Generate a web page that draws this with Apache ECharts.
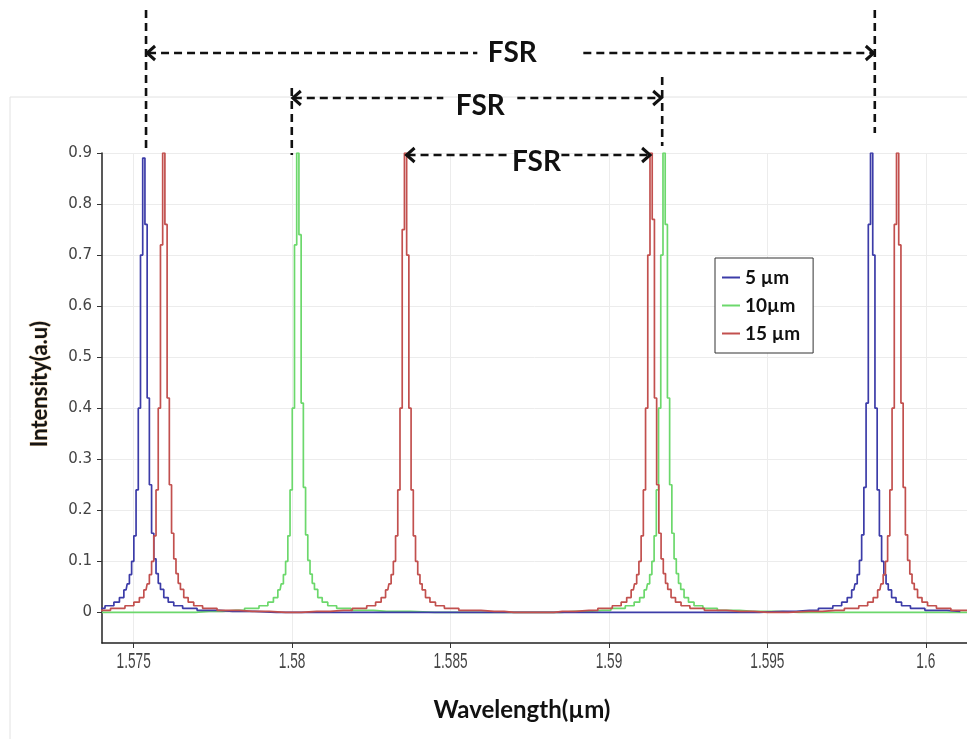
<!DOCTYPE html>
<html>
<head>
<meta charset="utf-8">
<script src="https://cdn.jsdelivr.net/npm/echarts@6/dist/echarts.min.js"></script>
<style>
html,body{margin:0;padding:0;background:#fff;}
#main{width:967px;height:739px;}
</style>
</head>
<body>
<div id="main"></div>
<script>
// ---- data ----
const seriesNames = ['5 µm', '10µm', '15 µm'];
const xTicks = [1.575, 1.58, 1.585, 1.59, 1.595, 1.6];
const yTicks = [0, 0.1, 0.2, 0.3, 0.4, 0.5, 0.6, 0.7, 0.8, 0.9];

const wl5 = [1.57252, 1.57336, 1.57392, 1.57427, 1.57448, 1.57462, 1.57476, 1.57483, 1.57490, 1.57497, 1.57504, 1.57511, 1.57518, 1.57525,
  1.57532,
  1.57539, 1.57546, 1.57553, 1.57560, 1.57567, 1.57574, 1.57581, 1.57588, 1.57602, 1.57616, 1.57637, 1.57672, 1.57728, 1.57812,
  1.5795, 1.5940,
  1.59549, 1.59633, 1.59689, 1.59724, 1.59745, 1.59759, 1.59773, 1.59780, 1.59787, 1.59794, 1.59801, 1.59808, 1.59815, 1.59822,
  1.59829,
  1.59836, 1.59843, 1.59850, 1.59857, 1.59864, 1.59871, 1.59878, 1.59885, 1.59899, 1.59913, 1.59934, 1.59969, 1.60025, 1.60109];
const int5 = [0.002, 0.004, 0.008, 0.013, 0.020, 0.029, 0.044, 0.056, 0.074, 0.100, 0.150, 0.240, 0.400, 0.700,
  0.890,
  0.760, 0.420, 0.250, 0.155, 0.105, 0.076, 0.057, 0.045, 0.029, 0.020, 0.013, 0.008, 0.004, 0.002,
  0, 0,
  0.002, 0.004, 0.008, 0.013, 0.020, 0.029, 0.044, 0.056, 0.074, 0.102, 0.152, 0.245, 0.410, 0.760,
  0.900,
  0.700, 0.400, 0.240, 0.150, 0.100, 0.074, 0.056, 0.044, 0.029, 0.020, 0.013, 0.008, 0.004, 0.002];

const wl10 = [1.5740, 1.5765,
  1.57738, 1.57822, 1.57878, 1.57913, 1.57934, 1.57948, 1.57962, 1.57969, 1.57976, 1.57983, 1.57990, 1.57997, 1.58004, 1.58011,
  1.58018,
  1.58025, 1.58032, 1.58039, 1.58046, 1.58053, 1.58060, 1.58067, 1.58074, 1.58088, 1.58102, 1.58123, 1.58158, 1.58214, 1.58298,
  1.5845, 1.5880,
  1.58894, 1.58978, 1.59034, 1.59069, 1.59090, 1.59104, 1.59118, 1.59125, 1.59132, 1.59139, 1.59146, 1.59153, 1.59160, 1.59167,
  1.59174,
  1.59181, 1.59188, 1.59195, 1.59202, 1.59209, 1.59216, 1.59223, 1.59230, 1.59244, 1.59258, 1.59279, 1.59314, 1.59370, 1.59454,
  1.5960, 1.6013];
const int10 = [0, 0,
  0.002, 0.004, 0.008, 0.013, 0.020, 0.029, 0.044, 0.056, 0.074, 0.100, 0.150, 0.240, 0.400, 0.720,
  0.900,
  0.740, 0.410, 0.245, 0.152, 0.102, 0.075, 0.057, 0.045, 0.029, 0.020, 0.013, 0.008, 0.004, 0.002,
  0, 0,
  0.002, 0.004, 0.008, 0.013, 0.020, 0.029, 0.044, 0.056, 0.074, 0.100, 0.150, 0.240, 0.400, 0.700,
  0.900,
  0.760, 0.420, 0.250, 0.155, 0.105, 0.076, 0.057, 0.045, 0.029, 0.020, 0.013, 0.008, 0.004, 0.002,
  0, 0];

const wl15 = [1.57315, 1.57399, 1.57455, 1.57490, 1.57511, 1.57525, 1.57539, 1.57546, 1.57553, 1.57560, 1.57567, 1.57574, 1.57581, 1.57588,
  1.57595,
  1.57602, 1.57609, 1.57616, 1.57623, 1.57630, 1.57637, 1.57644, 1.57651, 1.57665, 1.57679, 1.57700, 1.57735, 1.57791, 1.57875,
  1.5798,
  1.58078, 1.58162, 1.58218, 1.58253, 1.58274, 1.58288, 1.58302, 1.58309, 1.58316, 1.58323, 1.58330, 1.58337, 1.58344, 1.58351,
  1.58358,
  1.58365, 1.58372, 1.58379, 1.58386, 1.58393, 1.58400, 1.58407, 1.58414, 1.58428, 1.58442, 1.58463, 1.58498, 1.58554, 1.58638,
  1.5870, 1.5880,
  1.58853, 1.58937, 1.58993, 1.59028, 1.59049, 1.59063, 1.59077, 1.59084, 1.59091, 1.59098, 1.59105, 1.59112, 1.59119, 1.59126,
  1.59133,
  1.59140, 1.59147, 1.59154, 1.59161, 1.59168, 1.59175, 1.59182, 1.59189, 1.59203, 1.59217, 1.59238, 1.59273, 1.59329, 1.59413,
  1.5950,
  1.59631, 1.59715, 1.59771, 1.59806, 1.59827, 1.59841, 1.59855, 1.59862, 1.59869, 1.59876, 1.59883, 1.59890, 1.59897, 1.59904,
  1.59911,
  1.59918, 1.59925, 1.59932, 1.59939, 1.59946, 1.59953, 1.59960, 1.59967, 1.59981, 1.59995, 1.60016, 1.60051, 1.60107, 1.60191];
const int15 = [0.002, 0.004, 0.008, 0.013, 0.020, 0.029, 0.044, 0.056, 0.074, 0.100, 0.150, 0.240, 0.400, 0.720,
  0.900,
  0.760, 0.420, 0.250, 0.155, 0.105, 0.076, 0.057, 0.045, 0.029, 0.020, 0.013, 0.008, 0.004, 0.002,
  0,
  0.002, 0.004, 0.008, 0.013, 0.020, 0.029, 0.044, 0.056, 0.074, 0.100, 0.150, 0.240, 0.400, 0.750,
  0.900,
  0.700, 0.400, 0.240, 0.150, 0.100, 0.074, 0.056, 0.044, 0.029, 0.020, 0.013, 0.008, 0.004, 0.002,
  0, 0,
  0.002, 0.004, 0.008, 0.013, 0.020, 0.029, 0.044, 0.056, 0.074, 0.100, 0.150, 0.240, 0.400, 0.700,
  0.900,
  0.770, 0.420, 0.250, 0.155, 0.105, 0.076, 0.057, 0.045, 0.029, 0.020, 0.013, 0.008, 0.004, 0.002,
  0,
  0.002, 0.004, 0.008, 0.013, 0.020, 0.029, 0.044, 0.056, 0.074, 0.100, 0.150, 0.240, 0.400, 0.760,
  0.900,
  0.720, 0.410, 0.245, 0.152, 0.102, 0.075, 0.057, 0.045, 0.029, 0.020, 0.013, 0.008, 0.004, 0.002];

// FSR annotation anchors (wavelength, µm)
const fsrLeft = [1.57539, 1.57999, 1.58358];
const fsrRight = [1.59839, 1.59168, 1.59133];
const fsrLabelX = [1.58695, 1.58594, 1.58771];
const fsrLabel = ['FSR', 'FSR', 'FSR'];

// ---- chart ----
const colors = {'5 µm': '#3c3ca8', '10µm': '#6cd86c', '15 µm': '#c2504e'};
function zip(a, b) { return a.map((v, i) => [v, b[i]]); }
const seriesData = {'5 µm': zip(wl5, int5), '10µm': zip(wl10, int10), '15 µm': zip(wl15, int15)};
const drawOrder = ['10µm', '5 µm', '15 µm'];
const fmtX = v => String(parseFloat(v.toFixed(4)));

const chart = echarts.init(document.getElementById('main'), null, {renderer: 'canvas'});
const option = {
  backgroundColor: '#ffffff',
  animation: false,
  grid: {left: 102, right: 0, top: 153, bottom: 96, containLabel: false},
  xAxis: {
    type: 'value', min: 1.574, max: 1.6013,
    axisLine: {show: true, onZero: false, lineStyle: {color: '#222', width: 1.5}},
    axisTick: {show: true, length: 5, customValues: xTicks, lineStyle: {color: '#333'}},
    axisLabel: {show: false, customValues: xTicks},
    splitLine: {show: true, lineStyle: {color: '#ececec', width: 1}}
  },
  yAxis: {
    type: 'value', min: -0.06, max: 0.9,
    axisLine: {show: true, onZero: false, lineStyle: {color: '#222', width: 1.5}},
    axisTick: {show: true, length: 5, customValues: yTicks, lineStyle: {color: '#333'}},
    axisLabel: {customValues: yTicks, margin: 10, color: '#444', fontSize: 15,
      fontFamily: '"DejaVu Sans", sans-serif',
      formatter: v => (Math.abs(v) < 1e-9 ? '0' : v.toFixed(1))},
    splitLine: {show: true, lineStyle: {color: '#ececec', width: 1}}
  },
  legend: {
    data: seriesNames,
    orient: 'vertical', left: 715, top: 258,
    backgroundColor: '#fff', borderColor: '#333', borderWidth: 1,
    padding: [10, 13, 10, 7], itemGap: 9,
    icon: 'rect', itemWidth: 18, itemHeight: 2,
    textStyle: {fontFamily: 'Lato, sans-serif', fontWeight: 'bold', fontSize: 19, color: '#111'}
  },
  series: drawOrder.map(name => ({
    name: name, type: 'line', step: 'middle', showSymbol: false, symbol: 'none',
    data: seriesData[name], color: colors[name],
    lineStyle: {width: 1.7, color: colors[name]}, z: 2
  }))
};
chart.setOption(option);

// ---- annotations (positions derived from the axes) ----
const px = x => chart.convertToPixel({xAxisIndex: 0}, x);
const py = y => chart.convertToPixel({yAxisIndex: 0}, y);
const ink = '#111';
const dash = {stroke: ink, lineWidth: 2.6, lineDash: [8, 5]};
const g = [];
g.push({type: 'rect', shape: {x: 10, y: 97, width: 1000, height: 700}, style: {fill: 'none', stroke: '#e2e2e2', lineWidth: 1}, z: -10, silent: true});
function vline(x, y1, y2) { g.push({type: 'line', shape: {x1: x, y1: y1, x2: x, y2: y2}, style: dash, z: 50}); }
function hline(x1, x2, y) { if (x2 > x1) g.push({type: 'line', shape: {x1: x1, y1: y, x2: x2, y2: y}, style: dash, z: 50}); }
function headL(x, y) { g.push({type: 'polyline', shape: {points: [[x + 9, y - 7], [x + 1, y], [x + 9, y + 7]]}, style: {stroke: ink, lineWidth: 3, fill: 'none'}, z: 51}); }
function headR(x, y) { g.push({type: 'polyline', shape: {points: [[x - 9, y - 7], [x - 1, y], [x - 9, y + 7]]}, style: {stroke: ink, lineWidth: 3, fill: 'none'}, z: 51}); }

// x tick labels in a narrow face (condensed horizontally)
const axisBottom = py(-0.06);
xTicks.forEach(v => {
  g.push({type: 'text', x: px(v), y: axisBottom + 19, scaleX: 0.62, scaleY: 1, z: 30,
    style: {text: fmtX(v), fill: '#444', fontSize: 22, fontFamily: 'Liberation Sans', align: 'center', verticalAlign: 'middle'}});
});

const arrowY = [53, 98, 155];
const labelY = [53, 106, 162];
const gapL = [10, 12, 0];
const gapR = [46, 12, 0];
const halfW = 25;
vline(px(fsrLeft[0]), 10, 148);
vline(px(fsrRight[0]), 10, 133);
vline(px(fsrLeft[1]), 88, 155);
vline(px(fsrRight[1]), 77, 146);
for (let i = 0; i < 3; i++) {
  const xl = px(fsrLeft[i]), xr = px(fsrRight[i]), xc = px(fsrLabelX[i]), y = arrowY[i];
  hline(xl + 2, xc - halfW - gapL[i], y);
  hline(xc + halfW + gapR[i], xr - 2, y);
  headL(xl, y);
  headR(xr, y);
  g.push({type: 'text', x: xc, y: labelY[i], z: 52,
    style: {text: fsrLabel[i], fill: ink, font: 'bold 28px Lato, sans-serif', textAlign: 'center', textVerticalAlign: 'middle'}});
}
g.push({type: 'text', x: 40, y: 384, rotation: Math.PI / 2, z: 40,
  style: {text: 'Intensity(a.u)', fill: '#151515', font: 'bold 22px Lato, sans-serif', textAlign: 'center', textVerticalAlign: 'middle',
    stroke: 'rgba(220,140,40,0.35)', lineWidth: 1}});
g.push({type: 'text', x: 522, y: 710, z: 40,
  style: {text: 'Wavelength(µm)', fill: '#111', font: 'bold 24px Lato, sans-serif', textAlign: 'center', textVerticalAlign: 'middle'}});
chart.setOption({graphic: g});
</script>
</body>
</html>
